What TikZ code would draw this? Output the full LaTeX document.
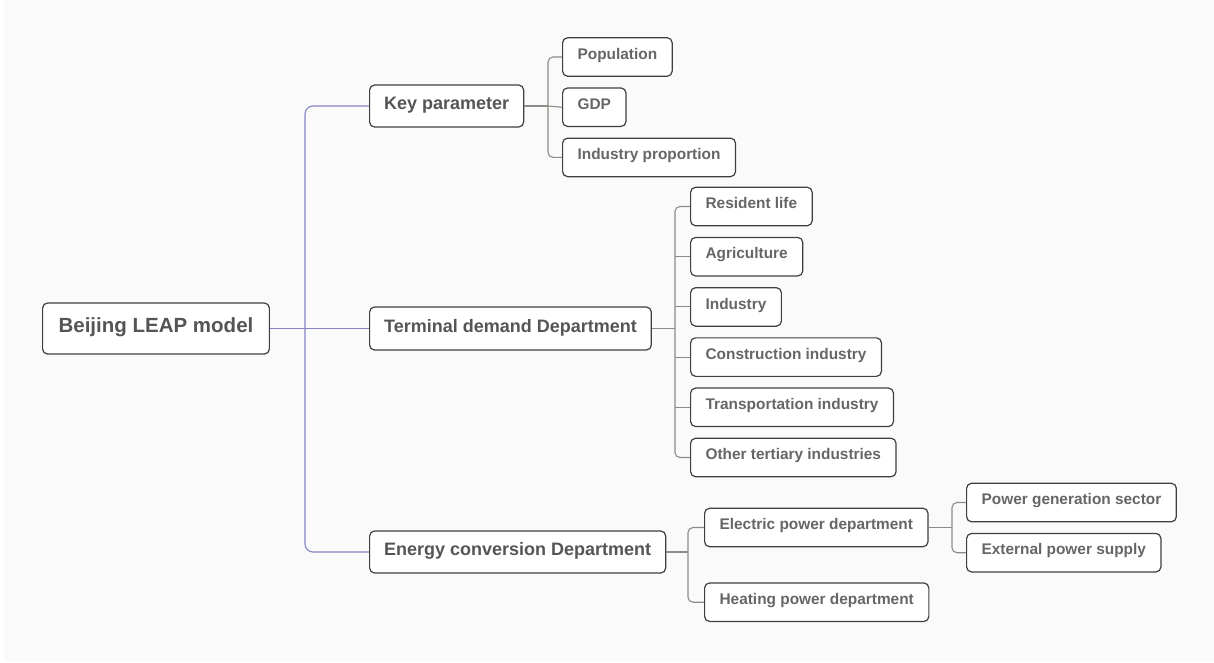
\documentclass[tikz,border=0pt]{standalone}
\usepackage{fontspec}
\setmainfont{Liberation Sans}
\usetikzlibrary{positioning}
\definecolor{bgcol}{HTML}{FAFAFA}
\definecolor{boxline}{HTML}{3F3F3F}
\definecolor{maintext}{HTML}{555555}
\definecolor{leaftext}{HTML}{666666}
\definecolor{trunkline}{HTML}{8585C6}
\definecolor{branchline}{HTML}{8E8A86}

\begin{document}
\begin{tikzpicture}[
    x=1pt, y=-1pt,
    box/.style={draw=boxline, line width=1.2pt, rounded corners=5pt, fill=white, inner xsep=15pt, inner ysep=0pt, text height=0.72em, text depth=0.3em},
    rootbox/.style={box, font=\fontsize{20.5}{24}\selectfont\bfseries, text=maintext, minimum height=51pt, inner xsep=16pt, text depth=0pt},
    topic/.style={box, font=\fontsize{18}{22}\selectfont\bfseries, text=maintext, minimum height=42pt, inner xsep=14.5pt, text depth=0pt},
    leaf/.style={box, font=\fontsize{15.4}{18}\selectfont\bfseries, text=leaftext, minimum height=38.5pt},
    trunk/.style={draw=trunkline, line width=1.1pt, rounded corners=8pt},
    branch/.style={draw=branchline, line width=1.1pt, rounded corners=5pt},
    node distance=10.5pt,
]
\useasboundingbox (0,0) rectangle (1214,662);
\fill[white] (0,0) rectangle (1214,662);
\fill[bgcol] (4,0) rectangle (1214,662);

% root and main branches
\node[rootbox, anchor=west] (root) at (42,328.5) {Beijing LEAP model};
\node[topic, anchor=west] (kp) at (369,106) {Key parameter};
\node[topic, anchor=west, minimum height=43pt] (td) at (369,328.5) {Terminal demand Department};
\node[topic, anchor=west] (ec) at (369,552) {Energy conversion Department};

% key parameters
\node[leaf, anchor=west] (pop) at (562,57) {Population};
\node[leaf, below=of pop.south west, anchor=north west] (gdp) {GDP};
\node[leaf, below=of gdp.south west, anchor=north west] (ip) {Industry proportion};

% terminal demand
\node[leaf, anchor=west] (rl) at (690,206.5) {Resident life};
\node[leaf, below=of rl.south west, anchor=north west] (ag) {Agriculture};
\node[leaf, below=of ag.south west, anchor=north west] (ind) {Industry};
\node[leaf, below=of ind.south west, anchor=north west] (con) {Construction industry};
\node[leaf, below=of con.south west, anchor=north west] (tr) {Transportation industry};
\node[leaf, below=of tr.south west, anchor=north west] (ot) {Other tertiary industries};

% energy conversion
\node[leaf, anchor=west] (ep) at (704,527.5) {Electric power department};
\node[leaf, below=35pt of ep.south west, anchor=north west] (hp) {Heating power department};
\node[leaf, anchor=west] (pg) at (966,502.5) {Power generation sector};
\node[leaf, below=of pg.south west, anchor=north west] (ex) {External power supply};

% junctions
\coordinate (rootj) at (305,328.5);
\coordinate (kpj) at (548,106);
\coordinate (tdj) at (675,328.5);
\coordinate (ecj) at (688,552);
\coordinate (epj) at (952,527.5);

\draw[trunk] (root.east) -- (td.west);
\draw[trunk] (kp.west) -| (rootj) |- (ec.west);

\draw[branch] (kp.east) -- (kpj);
\draw[branch] (pop.west) -| (kpj) |- (ip.west);
\draw[branch] (kpj) -- (gdp.west);

\draw[branch] (td.east) -- (tdj);
\draw[branch] (rl.west) -| (tdj) |- (ot.west);
\foreach \n in {ag,ind,con,tr}
    \draw[branch] (\n.west) -- (\n.west -| tdj);

\draw[branch] (ec.east) -- (ecj);
\draw[branch] (ep.west) -| (ecj) |- (hp.west);

\draw[branch] (ep.east) -- (epj);
\draw[branch] (pg.west) -| (epj) |- (ex.west);
\end{tikzpicture}
\end{document}
